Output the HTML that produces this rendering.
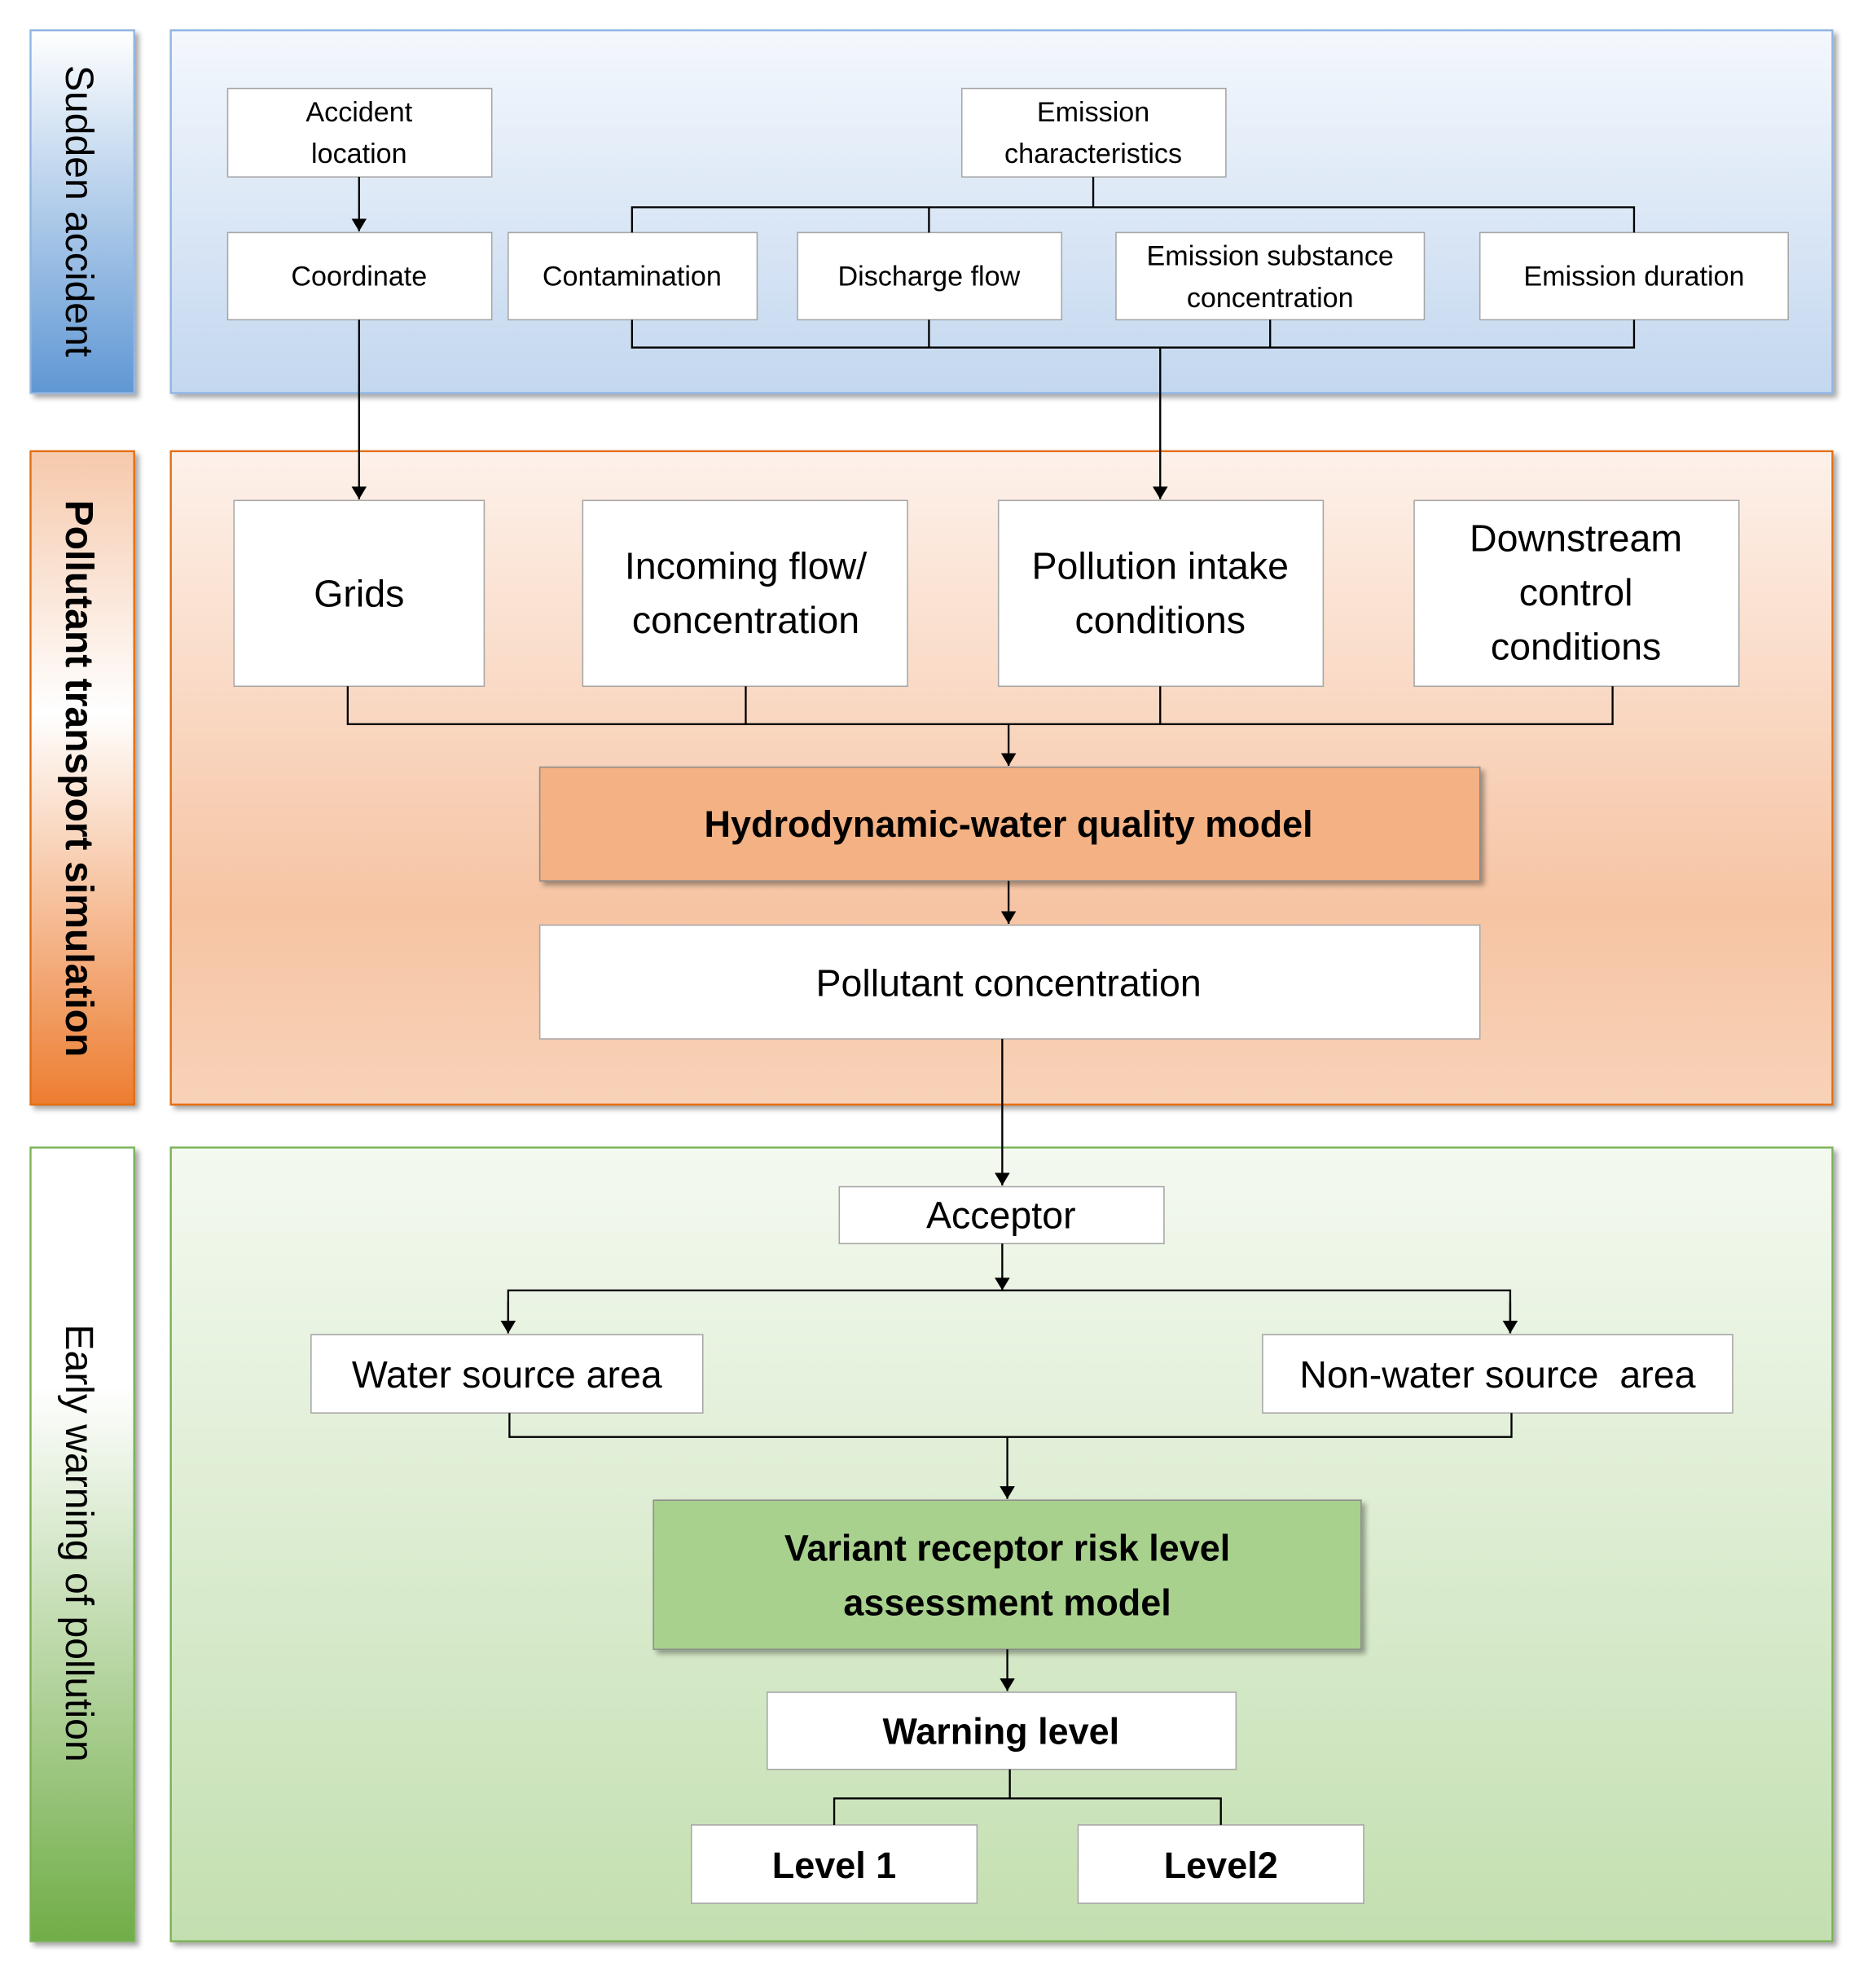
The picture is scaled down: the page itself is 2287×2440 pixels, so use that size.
<!DOCTYPE html>
<html><head><meta charset="utf-8"><style>
html,body{margin:0;padding:0;background:#fff;width:2287px;height:2440px;overflow:hidden}
svg{display:block}
text{font-family:"Liberation Sans",sans-serif;fill:#000}
</style></head><body>
<svg width="2287" height="2440" viewBox="0 0 1474 1573" xmlns="http://www.w3.org/2000/svg">
<defs>
<linearGradient id="b1" x1="0" y1="0" x2="0" y2="1"><stop offset="0" stop-color="#f4f8fd"/><stop offset="1" stop-color="#c3d7ef"/></linearGradient>
<linearGradient id="b1l" x1="0" y1="0" x2="0" y2="1"><stop offset="0" stop-color="#ffffff"/><stop offset="1" stop-color="#5f97d4"/></linearGradient>
<linearGradient id="b2" x1="0" y1="0" x2="0" y2="1"><stop offset="0" stop-color="#fdf1ea"/><stop offset="0.7" stop-color="#f6c4a3"/><stop offset="1" stop-color="#f8d2b8"/></linearGradient>
<linearGradient id="b2l" x1="0" y1="0" x2="0" y2="1"><stop offset="0" stop-color="#f6c9ab"/><stop offset="0.4" stop-color="#ffffff"/><stop offset="1" stop-color="#ed7d31"/></linearGradient>
<linearGradient id="b3" x1="0" y1="0" x2="0" y2="1"><stop offset="0" stop-color="#f4f9f0"/><stop offset="1" stop-color="#c3dfb0"/></linearGradient>
<linearGradient id="b3l" x1="0" y1="0" x2="0" y2="1"><stop offset="0" stop-color="#ffffff"/><stop offset="0.3" stop-color="#ffffff"/><stop offset="1" stop-color="#70ad47"/></linearGradient>
<marker id="ar" markerWidth="10" markerHeight="12" refX="10" refY="6" orient="auto" markerUnits="userSpaceOnUse"><path d="M0,0 L10,6 L0,12 z" fill="#000"/></marker>
<filter id="sh" x="-10%" y="-10%" width="130%" height="140%"><feDropShadow dx="3" dy="3" stdDeviation="2" flood-color="#000" flood-opacity="0.35"/></filter>
</defs>

<g filter="url(#sh)">
<rect x="24" y="24" width="82" height="287" fill="url(#b1l)" stroke="#8eb4e3" stroke-width="1.5"/>
<rect x="135" y="24" width="1315" height="287" fill="url(#b1)" stroke="#8eb4e3" stroke-width="1.5"/>
<rect x="24" y="357" width="82" height="517" fill="url(#b2l)" stroke="#e46c0a" stroke-width="1.5"/>
<rect x="135" y="357" width="1315" height="517" fill="url(#b2)" stroke="#e46c0a" stroke-width="1.5"/>
<rect x="24" y="908" width="82" height="628" fill="url(#b3l)" stroke="#77b255" stroke-width="1.5"/>
<rect x="135" y="908" width="1315" height="628" fill="url(#b3)" stroke="#77b255" stroke-width="1.5"/>
</g>

<text transform="translate(52,167) rotate(90)" text-anchor="middle" font-size="31">Sudden accident</text>
<text transform="translate(52,616) rotate(90)" text-anchor="middle" font-size="31" font-weight="bold">Pollutant transport simulation</text>
<text transform="translate(52,1221) rotate(90)" text-anchor="middle" font-size="31">Early warning of pollution</text>

<g fill="#fff" stroke="#a6a6a6" stroke-width="1">
<rect x="180" y="70" width="209" height="70"/>
<rect x="761" y="70" width="209" height="70"/>
<rect x="180" y="184" width="209" height="69"/>
<rect x="402" y="184" width="197" height="69"/>
<rect x="631" y="184" width="209" height="69"/>
<rect x="883" y="184" width="244" height="69"/>
<rect x="1171" y="184" width="244" height="69"/>
<rect x="185" y="396" width="198" height="147"/>
<rect x="461" y="396" width="257" height="147"/>
<rect x="790" y="396" width="257" height="147"/>
<rect x="1119" y="396" width="257" height="147"/>
<rect x="427" y="732" width="744" height="90"/>
<rect x="664" y="939" width="257" height="45"/>
<rect x="246" y="1056" width="310" height="62"/>
<rect x="999" y="1056" width="372" height="62"/>
<rect x="607" y="1339" width="371" height="61"/>
<rect x="547" y="1444" width="226" height="62"/>
<rect x="853" y="1444" width="226" height="62"/>
</g>
<g filter="url(#sh)" stroke="#8c8c8c" stroke-width="1">
<rect x="427" y="607" width="744" height="90" fill="#f4b183"/>
<rect x="517" y="1187" width="560" height="118" fill="#a9d18e"/>
</g>

<g stroke="#000" stroke-width="1.5" fill="none">
<line x1="284" y1="140" x2="284" y2="183" marker-end="url(#ar)"/>
<polyline points="865,140 865,164"/>
<polyline points="500,184 500,164 1293,164 1293,184"/>
<line x1="735" y1="164" x2="735" y2="184"/>
<polyline points="500,253 500,275 1293,275 1293,253"/>
<line x1="735" y1="253" x2="735" y2="275"/>
<line x1="1005" y1="253" x2="1005" y2="275"/>
<line x1="918" y1="275" x2="918" y2="395" marker-end="url(#ar)"/>
<line x1="284" y1="253" x2="284" y2="395" marker-end="url(#ar)"/>
<polyline points="275,543 275,573 1276,573 1276,543"/>
<line x1="590" y1="543" x2="590" y2="573"/>
<line x1="918" y1="543" x2="918" y2="573"/>
<line x1="798" y1="573" x2="798" y2="606" marker-end="url(#ar)"/>
<line x1="798" y1="697" x2="798" y2="731" marker-end="url(#ar)"/>
<line x1="793" y1="822" x2="793" y2="938" marker-end="url(#ar)"/>
<line x1="793" y1="984" x2="793" y2="1021" marker-end="url(#ar)"/>
<polyline points="402,1055 402,1021 1195,1021 1195,1055"/>
<line x1="402" y1="1030" x2="402" y2="1055" marker-end="url(#ar)"/>
<line x1="1195" y1="1030" x2="1195" y2="1055" marker-end="url(#ar)"/>
<polyline points="403,1118 403,1137 1196,1137 1196,1118"/>
<line x1="797" y1="1137" x2="797" y2="1186" marker-end="url(#ar)"/>
<line x1="797" y1="1305" x2="797" y2="1338" marker-end="url(#ar)"/>
<line x1="799" y1="1400" x2="799" y2="1423"/>
<polyline points="660,1444 660,1423 966,1423 966,1444"/>
</g>

<g text-anchor="middle" font-size="22">
<text x="284" y="96">Accident</text><text x="284" y="129">location</text>
<text x="865" y="96">Emission</text><text x="865" y="129">characteristics</text>
<text x="284" y="226">Coordinate</text>
<text x="500" y="226">Contamination</text>
<text x="735" y="226">Discharge flow</text>
<text x="1005" y="210">Emission substance</text><text x="1005" y="243">concentration</text>
<text x="1293" y="226">Emission duration</text>
</g>
<g text-anchor="middle" font-size="30">
<text x="284" y="480">Grids</text>
<text x="590" y="458">Incoming flow/</text><text x="590" y="501">concentration</text>
<text x="918" y="458">Pollution intake</text><text x="918" y="501">conditions</text>
<text x="1247" y="436">Downstream</text><text x="1247" y="479">control</text><text x="1247" y="522">conditions</text>
<text x="798" y="788">Pollutant concentration</text>
<text x="792" y="972">Acceptor</text>
<text x="401" y="1098">Water source area</text>
<text x="1185" y="1098">Non-water source&#160; area</text>
</g>
<g text-anchor="middle" font-size="29" font-weight="bold">
<text x="798" y="662">Hydrodynamic-water quality model</text>
<text x="797" y="1235">Variant receptor risk level</text>
<text x="797" y="1278">assessment model</text>
<text x="792" y="1380">Warning level</text>
<text x="660" y="1486">Level 1</text>
<text x="966" y="1486">Level2</text>
</g>
</svg>
</body></html>
